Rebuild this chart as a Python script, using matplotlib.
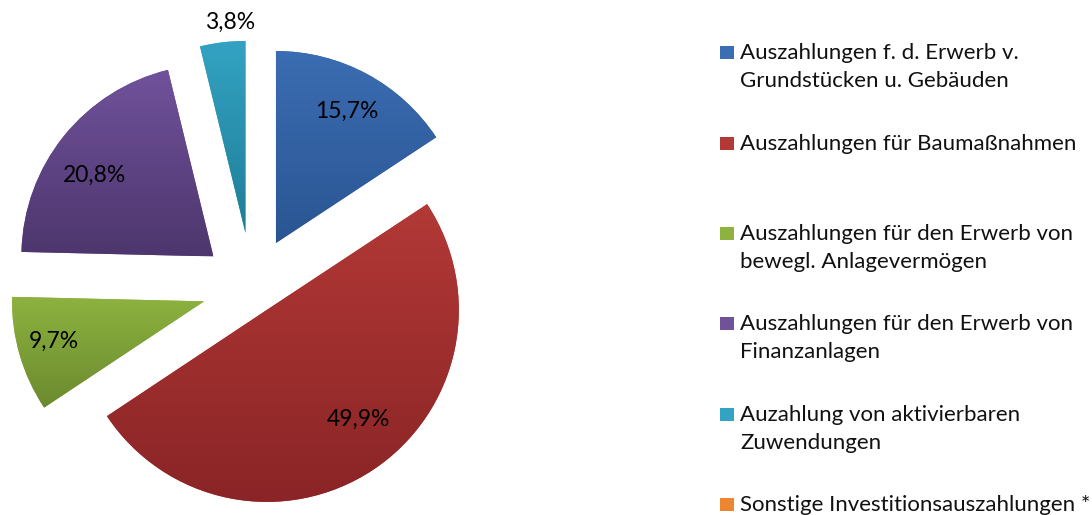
import matplotlib
matplotlib.use("Agg")
import matplotlib.pyplot as plt
import numpy as np
from matplotlib.patches import Rectangle
from matplotlib.colors import to_rgb

# ---------------- data ----------------
categories = [
    "Auszahlungen f. d. Erwerb v.\nGrundstücken u. Gebäuden",
    "Auszahlungen für Baumaßnahmen",
    "Auszahlungen für den Erwerb von\nbewegl. Anlagevermögen",
    "Auszahlungen für den Erwerb von\nFinanzanlagen",
    "Auzahlung von aktivierbaren\nZuwendungen",
    "Sonstige Investitionsauszahlungen *",
]
shares = [15.7, 49.9, 9.7, 20.8, 3.8, 0.0]
pct_labels = ["15,7%", "49,9%", "9,7%", "20,8%", "3,8%", ""]

# ---------------- style ----------------
top_colors = ["#3B6DB2", "#B23936", "#8DB23F", "#70529B", "#33A3C3", "#EC8630"]
bottom_colors = ["#2A5592", "#8A2426", "#6B8A2F", "#4D366D", "#1F7D97", "#C6621E"]
explode_frac = [0.263, 0.14, 0.26, 0.258, 0.286, 0.26]
label_dist = [0.776, 0.745, 0.81, 0.75, 1.10, 0.8]
label_dang = [0.0, 6.5, -1.4, 4.7, -2.6, 0.0]

FONT = ["Lato", "DejaVu Sans"]
plt.rcParams["font.family"] = FONT

W, H = 1092, 515
fig = plt.figure(figsize=(W / 100, H / 100), dpi=100)
ax = fig.add_axes([0, 0, 1, 1])

R = 192
center = (252, H - 287.5)
wedges, _ = ax.pie(
    shares,
    explode=[e * R for e in explode_frac],
    startangle=90,
    counterclock=False,
    radius=R,
    center=center,
    colors=top_colors,
    wedgeprops=dict(linewidth=0),
)

# vertical gradient inside every wedge
for w, ct, cb in zip(wedges, top_colors, bottom_colors):
    ext = w.get_path().get_extents()
    if ext.width <= 0 or ext.height <= 0:
        continue
    t = np.linspace(0, 1, 256)[:, None, None]
    grad = (1 - t) * np.array(to_rgb(cb))[None, None, :] + t * np.array(to_rgb(ct))[None, None, :]
    im = ax.imshow(grad, extent=(ext.x0, ext.x1, ext.y0, ext.y1), origin="lower",
                   aspect="auto", interpolation="bilinear", zorder=w.get_zorder() + 0.1)
    im.set_clip_path(w)

# percentage labels
for w, lab, d, da in zip(wedges, pct_labels, label_dist, label_dang):
    if not lab:
        continue
    thm = np.deg2rad((w.theta1 + w.theta2) / 2 + da)
    cx, cy = w.center
    ax.text(cx + d * R * np.cos(thm), cy + d * R * np.sin(thm), lab,
            ha="center", va="center", fontsize=16.5, color="#000000", zorder=5)

# legend (manual, Excel style)
first_base = 59.3
step = 90.35
line_step = 28.0
for i, (lab, col) in enumerate(zip(categories, top_colors)):
    base = H - (first_base + i * step)
    ax.add_patch(Rectangle((720, base), 14, 13, facecolor=col, edgecolor="none",
                           zorder=5))
    for j, line in enumerate(lab.split("\n")):
        ax.text(740, base - j * line_step, line, ha="left", va="baseline",
                fontsize=16, color="#111111", zorder=5)

ax.set_xlim(0, W)
ax.set_ylim(0, H)
ax.set_aspect("equal")
ax.axis("off")

fig.savefig("out.png", dpi=100)
